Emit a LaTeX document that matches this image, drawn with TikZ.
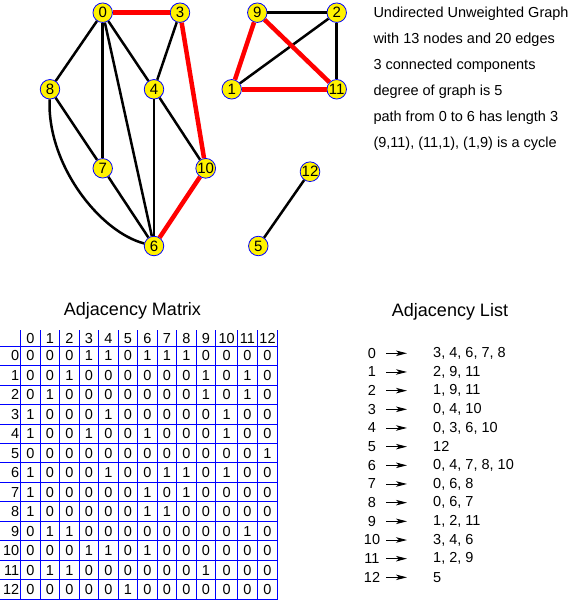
\documentclass[tikz,border=0pt]{standalone}
\usepackage{fontspec}
\setmainfont{Liberation Sans}
\usetikzlibrary{arrows.meta}

\begin{document}
\begin{tikzpicture}[x=1pt,y=-1pt,
  vert/.style={circle,draw=blue,fill=yellow,line width=0.8pt,minimum size=19.5pt,
    inner sep=0pt,font=\fontsize{15}{15}\selectfont},
  plain edge/.style={line width=2.5pt},
  path edge/.style={line width=4.5pt,red},
  info/.style={anchor=west,inner sep=0pt,font=\fontsize{14.5}{16}\selectfont},
  title/.style={inner sep=0pt,font=\fontsize{18}{20}\selectfont},
  cell/.style={inner sep=0pt,font=\fontsize{14.5}{15}\selectfont},
  grid line/.style={blue,line width=0.8pt},
  lst/.style={inner sep=0pt,font=\fontsize{14.5}{16}\selectfont},
  lst arrow/.style={-{Stealth[length=11pt,width=5.5pt,inset=3pt]},line width=0.9pt}]
  \useasboundingbox (0,0) rectangle (587,601);
  % vertices
  \node[vert] (0) at (102.7,12.7) {0};
  \node[vert] (3) at (180,12.7) {3};
  \node[vert] (9) at (257.3,12.7) {9};
  \node[vert] (2) at (336.7,12.7) {2};
  \node[vert] (8) at (50,89.3) {8};
  \node[vert] (4) at (154,89.3) {4};
  \node[vert] (1) at (231.7,89.3) {1};
  \node[vert] (11) at (336.7,89.3) {11};
  \node[vert] (7) at (102.7,168.3) {7};
  \node[vert] (10) at (205.7,168.3) {10};
  \node[vert] (12) at (310,171.7) {12};
  \node[vert] (6) at (154,246) {6};
  \node[vert] (5) at (258.3,246) {5};
  % edges
  \foreach \a/\b in {0/8,0/7,0/6,0/4,3/4,8/7,4/6,4/10,7/6,9/2,2/1,2/11,12/5}
    \draw[plain edge] (\a) -- (\b);
  \draw[plain edge] (8) .. controls (47,165) and (100,232) .. (6);
  \foreach \a/\b in {0/3,3/10,10/6,9/1,9/11,1/11}
    \draw[path edge] (\a) -- (\b);
  % facts
  \node[info] (t1) at (373.3,14) {Undirected Unweighted Graph};
  \node[info] (t2) at (373.3,40) {with 13 nodes and 20 edges};
  \node[info] (t3) at (373.3,65.7) {3 connected components};
  \node[info] (t4) at (373.3,91.7) {degree of graph is 5};
  \node[info] (t5) at (373.3,117.3) {path from 0 to 6 has length 3};
  \node[info] (t6) at (373.3,143.3) {(9,11), (11,1), (1,9) is a cycle};
  % adjacency matrix
  \node[title] (mtitle) at (132.5,310.7) {Adjacency Matrix};
  \def\colx{{30.45,49.95,69.45,88.95,108.45,127.95,147.45,166.95,186.45,205.95,226.6,247.5,267.5}}
  \foreach \b in {20.7,40.2,59.7,79.2,98.7,118.2,137.7,157.2,176.7,196.2,215.7,237.5,257.5,277.5}
    \draw[grid line] (\b,330) -- (\b,599.3);
  \foreach \k in {0,...,13}
    \draw[grid line] (0,{346+19.48*\k}) -- (277.5,{346+19.48*\k});
  \foreach \c in {0,...,12} {
    \pgfmathsetmacro\cx{\colx[\c]}
    \node[cell] (h\c) at (\cx,338.5) {\c};
  }
  \foreach \row [count=\r from 0] in {
      {0,0,0,1,1,0,1,1,1,0,0,0,0},{0,0,1,0,0,0,0,0,0,1,0,1,0},
      {0,1,0,0,0,0,0,0,0,1,0,1,0},{1,0,0,0,1,0,0,0,0,0,1,0,0},
      {1,0,0,1,0,0,1,0,0,0,1,0,0},{0,0,0,0,0,0,0,0,0,0,0,0,1},
      {1,0,0,0,1,0,0,1,1,0,1,0,0},{1,0,0,0,0,0,1,0,1,0,0,0,0},
      {1,0,0,0,0,0,1,1,0,0,0,0,0},{0,1,1,0,0,0,0,0,0,0,0,1,0},
      {0,0,0,1,1,0,1,0,0,0,0,0,0},{0,1,1,0,0,0,0,0,0,1,0,0,0},
      {0,0,0,0,0,1,0,0,0,0,0,0,0}} {
    \node[cell,anchor=east] (r\r) at (19.5,{346+19.48*(\r+0.5)}) {\r};
    \foreach \v [count=\c from 0] in \row {
      \pgfmathsetmacro\cx{\colx[\c]}
      \node[cell] (m\r-\c) at (\cx,{346+19.48*(\r+0.5)}) {\v};
    }
  }
  % adjacency list
  \node[title] (ltitle) at (450,311.7) {Adjacency List};
  \foreach \adj [count=\i from 0] in {{3, 4, 6, 7, 8},{2, 9, 11},{1, 9, 11},{0, 4, 10},
      {0, 3, 6, 10},{12},{0, 4, 7, 8, 10},{0, 6, 8},{0, 6, 7},{1, 2, 11},{3, 4, 6},
      {1, 2, 9},{5}} {
    \node[lst] (n\i) at (372,{353.3+18.67*\i}) {\i};
    \coordinate (s\i) at (386,{353.3+18.67*\i});
    \coordinate (e\i) at (407,{353.3+18.67*\i});
    \draw[lst arrow] (s\i) -- (e\i);
    \node[lst,anchor=west] (l\i) at (433,{353.3+18.67*\i}) {\adj};
  }
\end{tikzpicture}
\end{document}
